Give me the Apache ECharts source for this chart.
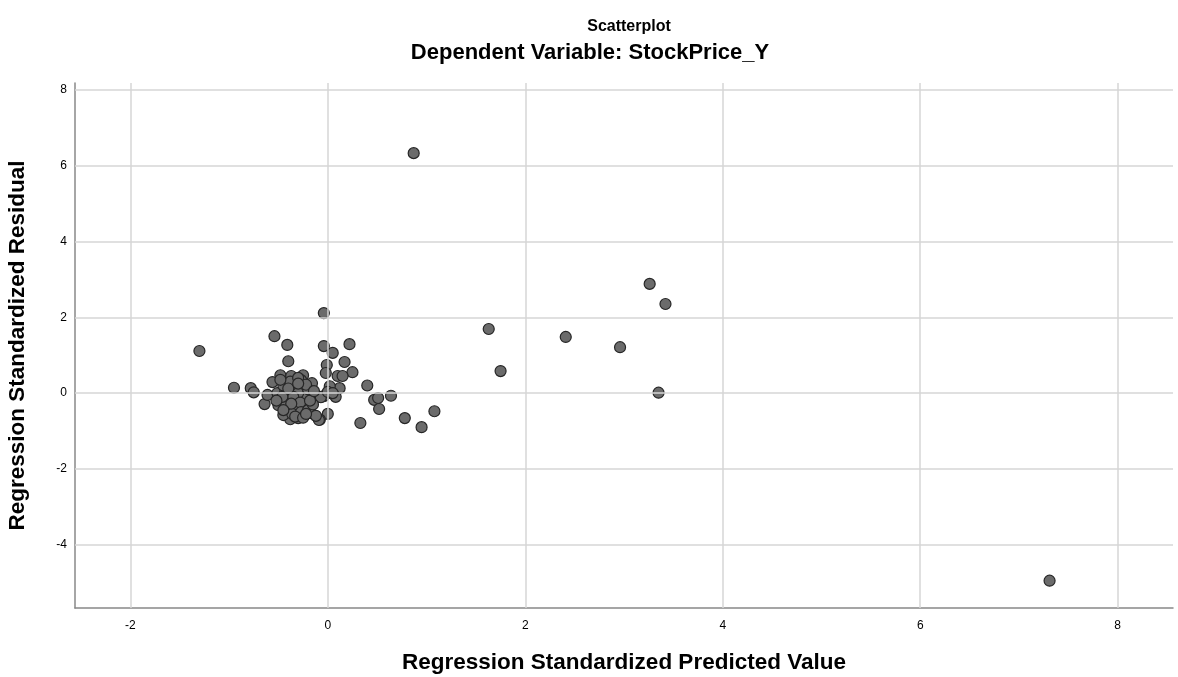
<!DOCTYPE html>
<html>
<head>
<meta charset="utf-8">
<script src="https://cdn.jsdelivr.net/npm/echarts@6/dist/echarts.min.js"></script>
<style>html,body{margin:0;padding:0;background:#fff}#c{width:1178px;height:677px}</style>
</head>
<body>
<div id="c"></div>
<script>
const titleText = "Scatterplot";
const subtitleText = "Dependent Variable: StockPrice_Y";
const xName = "Regression Standardized Predicted Value";
const yName = "Regression Standardized Residual";
const xTicks = [-2, 0, 2, 4, 6, 8];
const yTicks = [-4, -2, 0, 2, 4, 6, 8];
const predicted = [
  0.87, 7.31, -1.30, 3.26, 3.42, 2.41, 2.96, 3.35, 1.63, 1.75,
  -0.04, -0.54, -0.41, -0.40, -0.04, 0.05, 0.22, 0.17, -0.01, 0.25,
  0.10, 0.15, 0.12, 0.02, 0.40, 0.64, 0.47, 0.51, 0.52, 0.78,
  1.08, 0.95, 0.33, 0.00, -0.08, -0.08, -0.04, 0.08, -0.16, -0.95,
  -0.78, -0.75, -0.64, -0.61, -0.56, 0.03, -0.48, -0.37, -0.25, -0.51,
  -0.43, -0.34, -0.27, -0.19, -0.24, -0.30, -0.41, -0.50, -0.40, -0.32,
  -0.24, -0.17, -0.23, -0.30, -0.38, -0.45, -0.09, -0.07, 0.00, -0.02,
  -0.45, -0.38, -0.30, -0.20, -0.35, -0.28, -0.42, -0.36, -0.27, -0.20,
  -0.15, -0.12, -0.46, -0.33, -0.25, -0.40, -0.22, -0.52, -0.48, -0.18,
  -0.30, -0.37, -0.22, -0.45, -0.14, 0.05
];
const residual = [
  6.33, -4.95, 1.11, 2.88, 2.35, 1.48, 1.21, 0.01, 1.69, 0.58,
  2.11, 1.50, 1.27, 0.84, 1.24, 1.06, 1.29, 0.82, 0.74, 0.55,
  0.45, 0.45, 0.13, 0.18, 0.20, -0.07, -0.18, -0.13, -0.42, -0.66,
  -0.48, -0.90, -0.79, -0.55, -0.70, -0.10, -0.08, -0.10, 0.26, 0.14,
  0.13, 0.02, -0.29, -0.05, 0.29, 0.00, 0.47, 0.45, 0.47, 0.00,
  0.05, 0.16, 0.34, 0.00, -0.13, 0.00, -0.18, -0.32, -0.45, -0.40,
  -0.37, -0.53, -0.58, -0.66, -0.69, -0.58, -0.71, -0.11, 0.03, 0.53,
  0.20, 0.30, 0.40, 0.10, -0.10, -0.25, -0.30, -0.55, -0.50, -0.45,
  -0.30, -0.60, -0.10, -0.62, -0.65, 0.12, 0.22, -0.20, 0.35, -0.20,
  0.25, -0.28, -0.55, -0.45, 0.05, 0.00
];
const points = predicted.map((x, i) => [x, residual[i]]);

const FONT = "Liberation Sans, Arial, sans-serif";
const chart = echarts.init(document.getElementById('c'));
chart.setOption({
  animation: false,
  backgroundColor: '#ffffff',
  title: [
    { text: titleText, left: 624, top: 14, textAlign: 'center',
      textStyle: { fontFamily: FONT, fontSize: 16, fontWeight: 'bold', color: '#000' } },
    { text: subtitleText, left: 585, top: 37, textAlign: 'center',
      textStyle: { fontFamily: FONT, fontSize: 22, fontWeight: 'bold', color: '#000' } }
  ],
  grid: { left: 75, right: 5, top: 83, bottom: 69, containLabel: false, outerBoundsMode: 'none' },
  xAxis: {
    type: 'value', min: -2.56, max: 8.56,
    name: xName, nameLocation: 'middle', nameGap: 43,
    nameTextStyle: { fontFamily: FONT, fontSize: 22.5, fontWeight: 'bold', color: '#000' },
    axisLine: { show: true, onZero: false, lineStyle: { color: '#888', width: 1.5 } },
    axisTick: { show: false },
    splitLine: { show: false },
    axisLabel: { customValues: xTicks, fontFamily: FONT, fontSize: 12, color: '#000', margin: 12 }
  },
  yAxis: {
    type: 'value', min: -5.67, max: 8.18,
    name: yName, nameLocation: 'middle', nameGap: 46, nameRotate: 90,
    nameTextStyle: { fontFamily: FONT, fontSize: 22.5, fontWeight: 'bold', color: '#000' },
    axisLine: { show: true, onZero: false, lineStyle: { color: '#888', width: 1.5 } },
    axisTick: { show: false },
    splitLine: { show: false },
    axisLabel: { customValues: yTicks, fontFamily: FONT, fontSize: 12, color: '#000', margin: 8 }
  },
  series: [
    {
      type: 'scatter', data: [], z: 1, silent: true,
      markLine: {
        silent: true, symbol: 'none', animation: false,
        label: { show: false },
        lineStyle: { color: '#d6d6d6', width: 1.5, type: 'solid' },
        data: xTicks.map(v => ({ xAxis: v })).concat(yTicks.map(v => ({ yAxis: v })))
      }
    },
    {
      type: 'scatter', z: 3, data: points, symbol: 'circle', symbolSize: 11,
      itemStyle: { color: '#6b6b6b', borderColor: '#262626', borderWidth: 1.2, opacity: 1 }
    }
  ]
});
</script>
</body>
</html>
